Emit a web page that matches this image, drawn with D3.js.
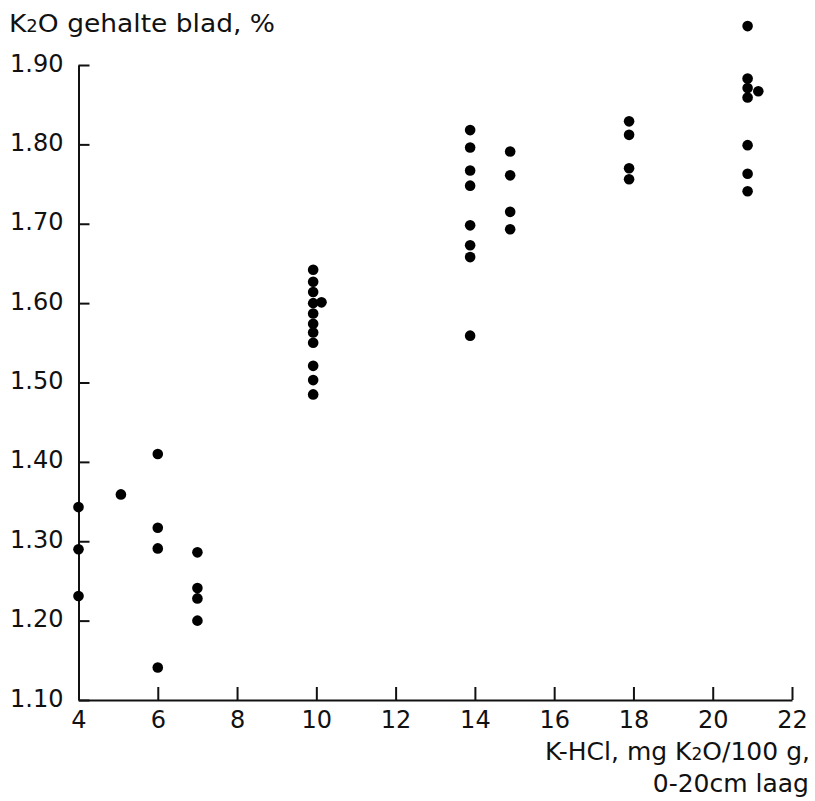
<!DOCTYPE html>
<html>
<head>
<meta charset="utf-8">
<script src="https://cdn.jsdelivr.net/npm/d3@7"></script>
<style>
  body { margin: 0; background: #fff; }
  text { font-family: "DejaVu Sans", sans-serif; fill: #111; }
</style>
</head>
<body>
<div id="chart"></div>
<script>
// K-HCl (mg K2O/100 g) versus K2O in leaf (%)
var kHcl = [4, 4, 4, 5.07, 6, 6, 6, 6, 7, 7, 7, 7,
  9.92, 9.92, 9.92, 9.92, 9.92, 9.92, 9.92, 9.92, 9.92, 9.92, 9.92, 10.13,
  13.88, 13.88, 13.88, 13.88, 13.88, 13.88, 13.88, 13.88,
  14.89, 14.89, 14.89, 14.89,
  17.89, 17.89, 17.89, 17.89,
  20.88, 20.88, 20.88, 20.88, 20.88, 20.88, 20.88, 21.15];
var k2oBlad = [1.343, 1.290, 1.231, 1.359, 1.410, 1.317, 1.291, 1.141, 1.286, 1.241, 1.228, 1.200,
  1.642, 1.627, 1.614, 1.600, 1.587, 1.574, 1.563, 1.550, 1.521, 1.503, 1.485, 1.601,
  1.818, 1.796, 1.767, 1.748, 1.698, 1.673, 1.658, 1.559,
  1.791, 1.761, 1.715, 1.693,
  1.829, 1.812, 1.770, 1.756,
  1.949, 1.883, 1.871, 1.859, 1.799, 1.763, 1.741, 1.867];
var xTicks = [4, 6, 8, 10, 12, 14, 16, 18, 20, 22];
var yTicks = [1.10, 1.20, 1.30, 1.40, 1.50, 1.60, 1.70, 1.80, 1.90];

var width = 815, height = 801;
var margin = {left: 78.5, right: 23, top: 65, bottom: 101};

var svg = d3.select("#chart").append("svg").attr("width", width).attr("height", height);

var x = d3.scaleLinear().domain([4, 22]).range([margin.left, width - margin.right]);
var y = d3.scaleLinear().domain([1.10, 1.90]).range([height - margin.bottom, margin.top]);

var xAxis = d3.axisBottom(x).tickValues(xTicks).tickFormat(d3.format("d"))
  .tickSizeInner(-13).tickSizeOuter(0).tickPadding(11);
var yAxis = d3.axisLeft(y).tickValues(yTicks).tickFormat(d3.format(".2f"))
  .tickSizeInner(-11).tickSizeOuter(0).tickPadding(15);

var gx = svg.append("g").attr("transform", "translate(0," + y(1.10) + ")").call(xAxis);
var gy = svg.append("g").attr("transform", "translate(" + x(4) + ",0)").call(yAxis);

[gx, gy].forEach(function(g){
  g.selectAll("path, line").attr("stroke", "#111").attr("stroke-width", 2);
  g.selectAll("text").style("font-size", "24px").attr("fill", "#111");
});
gx.selectAll("text").attr("dy", "0.72em");
gy.selectAll("text").attr("dy", "0.25em");

// points
svg.append("g").selectAll("circle")
  .data(kHcl)
  .enter().append("circle")
  .attr("cx", function(d){ return x(d); })
  .attr("cy", function(d, i){ return y(k2oBlad[i]); })
  .attr("r", 5.3)
  .attr("fill", "#000");

// y title
var yt = svg.append("text").attr("x", 9).attr("y", 32).style("font-size", "25px")
  .attr("textLength", 266).attr("lengthAdjust", "spacingAndGlyphs");
yt.append("tspan").text("K");
yt.append("tspan").style("font-size", "17px").text("2");
yt.append("tspan").text("O gehalte blad, %");

// x title
var xt1 = svg.append("text").attr("x", 810).attr("y", 760).attr("text-anchor", "end").style("font-size", "25px")
  .attr("textLength", 265).attr("lengthAdjust", "spacingAndGlyphs");
xt1.append("tspan").text("K-HCl, mg K");
xt1.append("tspan").style("font-size", "17px").text("2");
xt1.append("tspan").text("O/100 g,");
svg.append("text").attr("x", 809).attr("y", 792).attr("text-anchor", "end").style("font-size", "25px")
  .text("0-20cm laag");
</script>
</body>
</html>
